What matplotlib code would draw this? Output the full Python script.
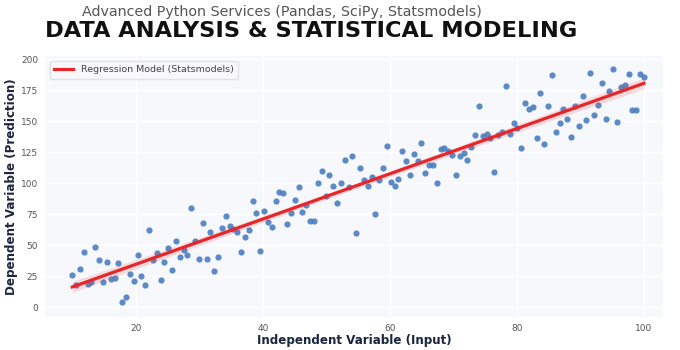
import numpy as np
import matplotlib
matplotlib.use("Agg")
import matplotlib.pyplot as plt

# data (x is evenly spaced 10..100, 150 points)
x_vals = np.linspace(10, 100, 150)
y_vals = [
    25.8, 17.5, 30.6, 44.6, 19.0, 20.2, 48.6, 37.9, 19.9, 36.6,
    22.6, 23.7, 35.2, 3.8, 7.8, 26.3, 20.7, 41.9, 24.7, 17.7,
    62.4, 38.0, 43.4, 22.2, 36.5, 47.5, 29.6, 53.5, 40.0, 46.1,
    41.9, 80.1, 53.5, 38.5, 67.8, 38.5, 60.9, 29.3, 40.1, 63.8,
    73.1, 65.6, 63.0, 60.7, 44.4, 56.7, 61.9, 85.5, 75.8, 45.3,
    77.8, 68.3, 64.8, 85.4, 92.8, 92.4, 66.8, 75.8, 86.7, 97.1,
    76.5, 82.3, 69.4, 69.3, 100.2, 109.7, 89.2, 106.6, 97.8, 83.9,
    100.0, 118.5, 96.6, 121.5, 59.7, 112.5, 102.5, 97.8, 104.8, 74.8,
    102.2, 112.0, 129.8, 100.9, 97.8, 103.5, 125.8, 118.0, 106.2, 123.1,
    117.8, 132.0, 108.0, 114.5, 114.6, 100.0, 127.2, 128.3, 125.5, 122.7,
    106.2, 122.2, 124.3, 118.5, 129.4, 138.7, 162.1, 137.6, 139.8, 136.0,
    109.3, 139.0, 141.4, 178.5, 139.7, 148.4, 144.1, 128.5, 164.3, 159.4,
    161.0, 136.5, 172.3, 131.2, 162.4, 187.4, 140.9, 148.4, 159.4, 151.6,
    136.9, 162.4, 146.2, 170.4, 150.5, 188.7, 154.8, 162.9, 180.9, 151.6,
    174.4, 191.7, 148.9, 177.2, 179.0, 188.1, 158.9, 158.9, 187.7, 185.2,
]
y_vals = np.array(y_vals)

x_ticks = [20, 40, 60, 80, 100]
y_ticks = [0, 25, 50, 75, 100, 125, 150, 175, 200]

# OLS fit + 95% confidence band for the mean
n = len(x_vals)
X = np.column_stack([np.ones(n), x_vals])
beta, *_ = np.linalg.lstsq(X, y_vals, rcond=None)
fit = X @ beta
resid = y_vals - fit
s2 = resid @ resid / (n - 2)
cov = s2 * np.linalg.inv(X.T @ X)
se = np.sqrt(np.einsum("ij,jk,ik->i", X, cov, X))
lo, hi = fit - 1.976 * se, fit + 1.976 * se

fig = plt.figure(figsize=(6.8, 3.5), dpi=100)
ax = fig.add_axes([45/680, 1 - 317/350, 618/680, 261/350])
ax.set_facecolor("#f7f8fc")
for s in ax.spines.values():
    s.set_visible(False)
ax.grid(True, color="white", linewidth=1.0)
ax.set_axisbelow(True)

ax.scatter(x_vals, y_vals, s=20, color="#4a7ec0", alpha=0.9, linewidths=0, zorder=2)
ax.fill_between(x_vals, lo, hi, color="#e83030", alpha=0.15, linewidth=0, zorder=3)
ax.plot(x_vals, fit, color="#e8262a", linewidth=2.3, label="Regression Model (Statsmodels)", zorder=4)

ax.set_xlim(5.7, 103)
ax.set_ylim(-8, 202.5)
ax.set_xticks(x_ticks)
ax.set_yticks(y_ticks)
ax.tick_params(length=0, labelsize=6.5, labelcolor="#555555", pad=5)
ax.set_xlabel("Independent Variable (Input)", fontsize=8.6, fontweight="bold", color="#1c2541", labelpad=1)
ax.set_ylabel("Dependent Variable (Prediction)", fontsize=8.6, fontweight="bold", color="#1c2541", labelpad=2)

leg = ax.legend(loc="upper left", fontsize=6.8, frameon=True, borderpad=0.5)
leg.get_frame().set_edgecolor("#dddddd")
leg.get_frame().set_facecolor("#f9f9fb")
for t in leg.get_texts():
    t.set_color("#444444")

fig.text(82/680, 1 - 12/350, "Advanced Python Services (Pandas, SciPy, Statsmodels)",
         fontsize=10.3, color="#555555", va="center", ha="left")
fig.text(45/680, 1 - 31/350, "DATA ANALYSIS & STATISTICAL MODELING",
         fontsize=16.2, fontweight="bold", color="#111111", va="center", ha="left")

fig.savefig("out.png", dpi=100)
